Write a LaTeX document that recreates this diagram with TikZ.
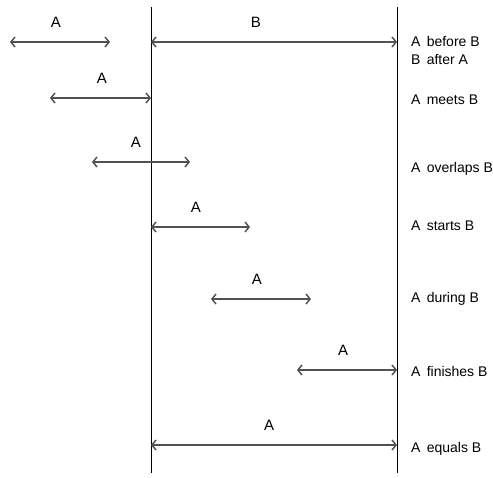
\documentclass[tikz,border=0pt]{standalone}
\usepackage{fontspec}
\setmainfont{Liberation Sans}
\usetikzlibrary{arrows.meta}

\begin{document}
\begin{tikzpicture}[x=1pt, y=-1pt,
    interval/.style={draw=black!68, line width=1.5pt,
        {Straight Barb[length=4pt,width=10pt]}-{Straight Barb[length=4pt,width=10pt]}},
    tag/.style={font=\fontsize{15}{17}\selectfont, inner sep=0pt},
    relation/.style={font=\fontsize{14}{16}\selectfont, anchor=west, inner sep=0pt}]
    \useasboundingbox (0,0) rectangle (493,477);
    % the two ends of B
    \coordinate (btop) at (151,7);
    \coordinate (bbot) at (151,473);
    \coordinate (etop) at (397,7);
    \coordinate (ebot) at (397,473);
    \draw[black, line width=0.8pt] (btop) -- (bbot);
    \draw[black, line width=0.8pt] (etop) -- (ebot);
    \coordinate (bl) at (151,42);
    \coordinate (br) at (397,42);
    \draw[interval] (bl) -- (br);
    \node[tag] (btag) at (256,22) {B};
    % the intervals A
    \foreach \l/\r/\y/\t/\n in {10/110/42/56/1, 50/151/98/102/2, 92/190/162/136/3,
            151/250/227/196/4, 211/311/299/257/5, 297/397/370/343/6, 151/397/445/269/7} {
        \coordinate (a\n l) at (\l,\y);
        \coordinate (a\n r) at (\r,\y);
        \draw[interval] (a\n l) -- (a\n r);
        \node[tag] (a\n tag) at (\t,\y-20) {A};
    }
    % relations
    \node[relation] (before) at (411,41) {A\, before B};
    \node[relation] (after) at (411,60) {B\, after A};
    \node[relation] (meets) at (411,100) {A\, meets B};
    \node[relation] (overlaps) at (411,169) {A\, overlaps B};
    \node[relation] (starts) at (411,226) {A\, starts B};
    \node[relation] (during) at (411,299) {A\, during B};
    \node[relation] (finishes) at (411,371) {A\, finishes B};
    \node[relation] (equals) at (411,449) {A\, equals B};
\end{tikzpicture}
\end{document}
